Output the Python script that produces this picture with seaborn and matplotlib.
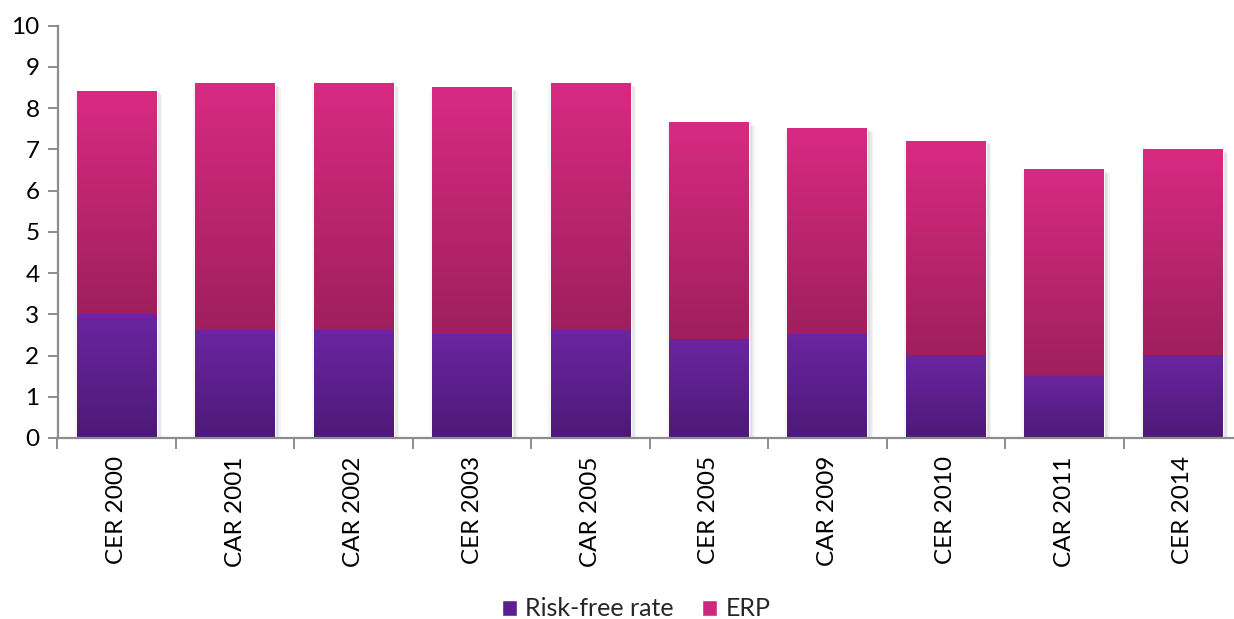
import numpy as np
import pandas as pd
import matplotlib
matplotlib.use("Agg")
import matplotlib.pyplot as plt
import matplotlib.patheffects as pe
from matplotlib.colors import to_rgb
from matplotlib.patches import Patch
import seaborn as sns

categories = ["CER 2000", "CAR 2001", "CAR 2002", "CER 2003", "CAR 2005",
              "CER 2005", "CAR 2009", "CER 2010", "CAR 2011", "CER 2014"]
risk_free = [3.0, 2.6, 2.6, 2.5, 2.6, 2.4, 2.5, 2.0, 1.5, 2.0]
erp = [5.4, 6.0, 6.0, 6.0, 6.0, 5.25, 5.0, 5.2, 5.0, 5.0]
y_ticks = list(range(0, 11))

totals = [r + e for r, e in zip(risk_free, erp)]
df = pd.DataFrame({"cat": categories, "rf": risk_free, "total": totals})

sns.set_theme(style="white")
plt.rcParams["font.family"] = ["Lato", "DejaVu Sans"]

fig = plt.figure(figsize=(12.34, 6.19), dpi=100)
ax = fig.add_axes([57.5 / 1234, 181 / 619, 1184.5 / 1234, 412.3 / 619])

purple_top, purple_bot = "#6a25a0", "#4d1977"
mag_top, mag_bot = "#d82a82", "#9f1f5c"
bw = 0.675

sns.barplot(data=df, x="cat", y="total", color=mag_top, width=bw, ax=ax,
            saturation=1, zorder=1)
tot_patches = list(ax.patches)
sns.barplot(data=df, x="cat", y="rf", color=purple_top, width=bw, ax=ax,
            saturation=1, zorder=1)

shadow = [pe.SimplePatchShadow(offset=(o, -o * 0.6), shadow_rgbFace="#000000",
                               alpha=0.045) for o in (1.0, 2.0, 3.0, 4.0)]
shadow += [pe.SimplePatchShadow(offset=(-1.5, -1.0), shadow_rgbFace="#000000",
                                alpha=0.04), pe.Normal()]
for p in tot_patches:
    p.set_path_effects(shadow)


def grad(top, bot, n=256):
    t = np.linspace(0, 1, n)[:, None]
    a, b = np.array(to_rgb(top)), np.array(to_rgb(bot))
    return (a * (1 - t) + b * t)[:, None, :]


g_mag = grad(mag_top, mag_bot)
g_pur = grad(purple_top, purple_bot)
for p, r, tt in zip(tot_patches, risk_free, totals):
    x0 = p.get_x()
    x1 = x0 + p.get_width()
    ax.imshow(g_mag, extent=(x0, x1, r, tt), origin="upper", aspect="auto",
              interpolation="bilinear", zorder=3)
    ax.imshow(g_pur, extent=(x0, x1, 0, r), origin="upper", aspect="auto",
              interpolation="bilinear", zorder=3)

ax.set_xlim(-0.5, len(categories) - 0.5)
ax.set_ylim(0, 10)
ax.set_yticks(y_ticks)
ax.set_yticklabels([str(v) for v in y_ticks])
ax.set_xlabel("")
ax.set_ylabel("")

gray = "#8c8c8c"
for s in ["top", "right"]:
    ax.spines[s].set_visible(False)
for s in ["left", "bottom"]:
    ax.spines[s].set_color(gray)
    ax.spines[s].set_linewidth(1.6)
    ax.spines[s].set_zorder(5)

ax.tick_params(axis="y", which="major", length=7, width=1.4, color=gray,
               labelsize=17.5, pad=6, left=True, labelcolor="black")
ax.tick_params(axis="x", which="major", length=0, labelsize=17.5, pad=13,
               labelrotation=90, labelcolor="black")
ax.set_xticks(np.arange(-0.5, len(categories), 1.0), minor=True)
ax.tick_params(axis="x", which="minor", length=8, width=1.4, color=gray,
               bottom=True)
for lab in ax.get_xticklabels():
    lab.set_va("top")
    lab.set_ha("center")

handles = [Patch(facecolor="#5c1f8e", label="Risk-free rate"),
           Patch(facecolor="#cc287c", label="ERP")]
fig.legend(handles=handles, loc="center", bbox_to_anchor=(636 / 1234, 1 - 609 / 619),
           ncol=2, frameon=False, fontsize=18, handlelength=0.6,
           handleheight=0.6, handletextpad=0.35, columnspacing=1.1)

fig.savefig("out.png", dpi=100)
